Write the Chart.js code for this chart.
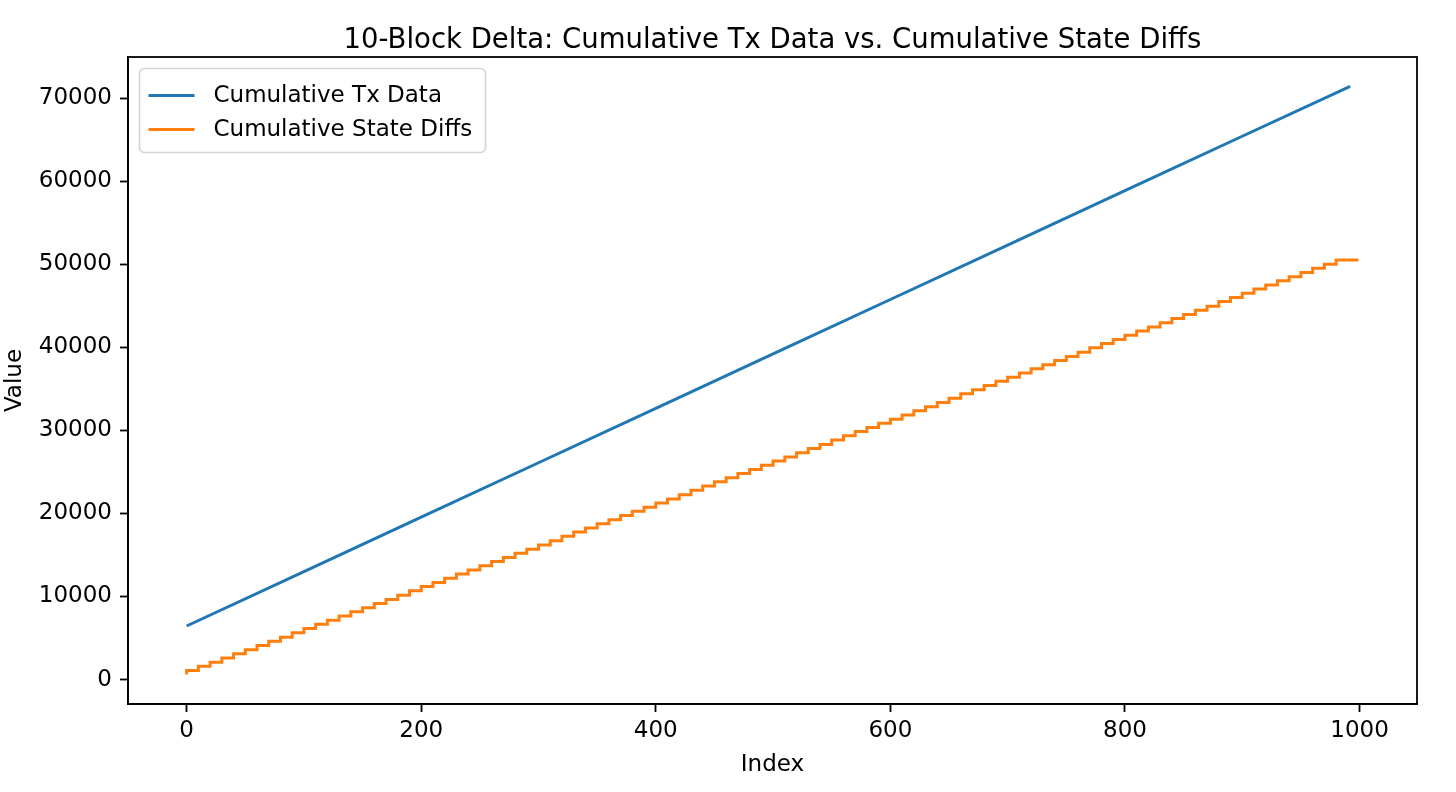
<!DOCTYPE html>
<html>
<head>
<meta charset="utf-8">
<script src="https://cdn.jsdelivr.net/npm/chart.js@4.4.1/dist/chart.umd.min.js"></script>
<style>html,body{margin:0;padding:0;background:#fff}</style>
</head>
<body>
<canvas id="chart" width="1456" height="792"></canvas>
<script>
const titleText='10-Block Delta: Cumulative Tx Data vs. Cumulative State Diffs';
const txLabel='Cumulative Tx Data';
const stateLabel='Cumulative State Diffs';

// blue line
const txIndex=[0,100,200,300,400,500,600,700,800,900,992];
const txValues=[6450,13000,19550,26100,32650,39200,45750,52300,58850,65400,71400];

// orange staircase: one value per 10-block window, last point closes the final step
const stateIndex=[0,10,20,30,40,50,60,70,80,90,100,110,120,130,140,150,160,170,180,190,
 200,210,220,230,240,250,260,270,280,290,300,310,320,330,340,350,360,370,380,390,
 400,410,420,430,440,450,460,470,480,490,500,510,520,530,540,550,560,570,580,590,
 600,610,620,630,640,650,660,670,680,690,700,710,720,730,740,750,760,770,780,790,
 800,810,820,830,840,850,860,870,880,890,900,910,920,930,940,950,960,970,980,990,999];
const stateValues=[600,1100,1600,2100,2600,3100,3600,4100,4600,5100,
 5650,6150,6650,7150,7650,8150,8650,9150,9650,10150,
 10700,11200,11700,12200,12700,13200,13700,14200,14700,15200,
 15700,16200,16700,17250,17750,18250,18750,19250,19750,20250,
 20750,21250,21750,22250,22800,23300,23800,24300,24800,25300,
 25800,26300,26800,27300,27800,28300,28850,29350,29850,30350,
 30850,31350,31850,32350,32850,33350,33850,34400,34900,35400,
 35900,36400,36900,37400,37900,38400,38900,39400,39950,40450,
 40950,41450,41950,42450,42950,43450,43950,44450,44950,45500,
 46000,46500,47000,47500,48000,48500,49000,49500,50000,50500,50500];

const xTicks=[0,200,400,600,800,1000];
const yTicks=[0,10000,20000,30000,40000,50000,60000,70000];

const pts=(xs,ys)=>xs.map((x,i)=>({x:x,y:ys[i]}));

const frame={id:'frame',afterDatasetsDraw(c){
 const a=c.chartArea,ctx=c.ctx;
 ctx.save();ctx.strokeStyle='#000';ctx.lineWidth=1.8;
 ctx.strokeRect(a.left,a.top,a.right-a.left,a.bottom-a.top);
 ctx.restore();
}};

const legendBox={id:'legendBox',afterDraw(c){
 const a=c.chartArea,ctx=c.ctx;
 const x=a.left+11.5,y=a.top+11.5,w=346,h=84;
 ctx.save();
 ctx.beginPath();ctx.roundRect(x,y,w,h,5);
 ctx.fillStyle='rgba(255,255,255,0.8)';ctx.fill();
 ctx.strokeStyle='#d4d4d4';ctx.lineWidth=1.6;ctx.stroke();
 ctx.font='23px "DejaVu Sans"';ctx.textBaseline='middle';
 c.data.datasets.forEach((d,i)=>{
  const ly=y+27+i*34;
  ctx.strokeStyle=d.borderColor;ctx.lineWidth=3;
  ctx.beginPath();ctx.moveTo(x+9,ly);ctx.lineTo(x+55,ly);ctx.stroke();
  ctx.fillStyle='#000';ctx.fillText(d.label,x+74,ly+1);
 });
 ctx.restore();
}};

Chart.defaults.font.family='"DejaVu Sans"';
Chart.defaults.color='#000';

new Chart(document.getElementById('chart'),{
 type:'line',
 data:{datasets:[
  {label:txLabel,data:pts(txIndex,txValues),borderColor:'#1f77b4',borderWidth:3,pointRadius:0,tension:0},
  {label:stateLabel,data:pts(stateIndex,stateValues),borderColor:'#ff7f0e',borderWidth:3,pointRadius:0,stepped:'after'}
 ]},
 options:{
  responsive:false,animation:false,
  layout:{padding:{left:0,right:39,top:0,bottom:0}},
  plugins:{
   legend:{display:false},tooltip:{enabled:false},
   title:{display:true,text:titleText,fullSize:false,font:{size:27.5,weight:'normal'},color:'#000',padding:{top:24,bottom:0}}
  },
  scales:{
   x:{type:'linear',min:-50,max:1049,
    afterBuildTicks:s=>{s.ticks=xTicks.map(v=>({value:v}))},
    afterFit:s=>{s.height=88},
    ticks:{font:{size:23},padding:5,maxRotation:0,includeBounds:false,callback:v=>String(v)},
    grid:{drawOnChartArea:false,drawTicks:true,tickLength:8,tickColor:'#000',tickWidth:1.8},
    border:{display:true,color:'#000',width:1.8},
    title:{display:true,text:'Index',font:{size:23},padding:{top:0,bottom:13}}
   },
   y:{type:'linear',min:-2940,max:74940,
    afterBuildTicks:s=>{s.ticks=yTicks.map(v=>({value:v}))},
    afterFit:s=>{s.width=128},
    ticks:{font:{size:23},padding:8,includeBounds:false,callback:v=>String(v)},
    grid:{drawOnChartArea:false,drawTicks:true,tickLength:8,tickColor:'#000',tickWidth:1.8},
    border:{display:true,color:'#000',width:1.8},
    title:{display:true,text:'Value',font:{size:23},padding:{top:1,bottom:0}}
   }
  }
 },
 plugins:[frame,legendBox]
});
</script>
</body>
</html>
